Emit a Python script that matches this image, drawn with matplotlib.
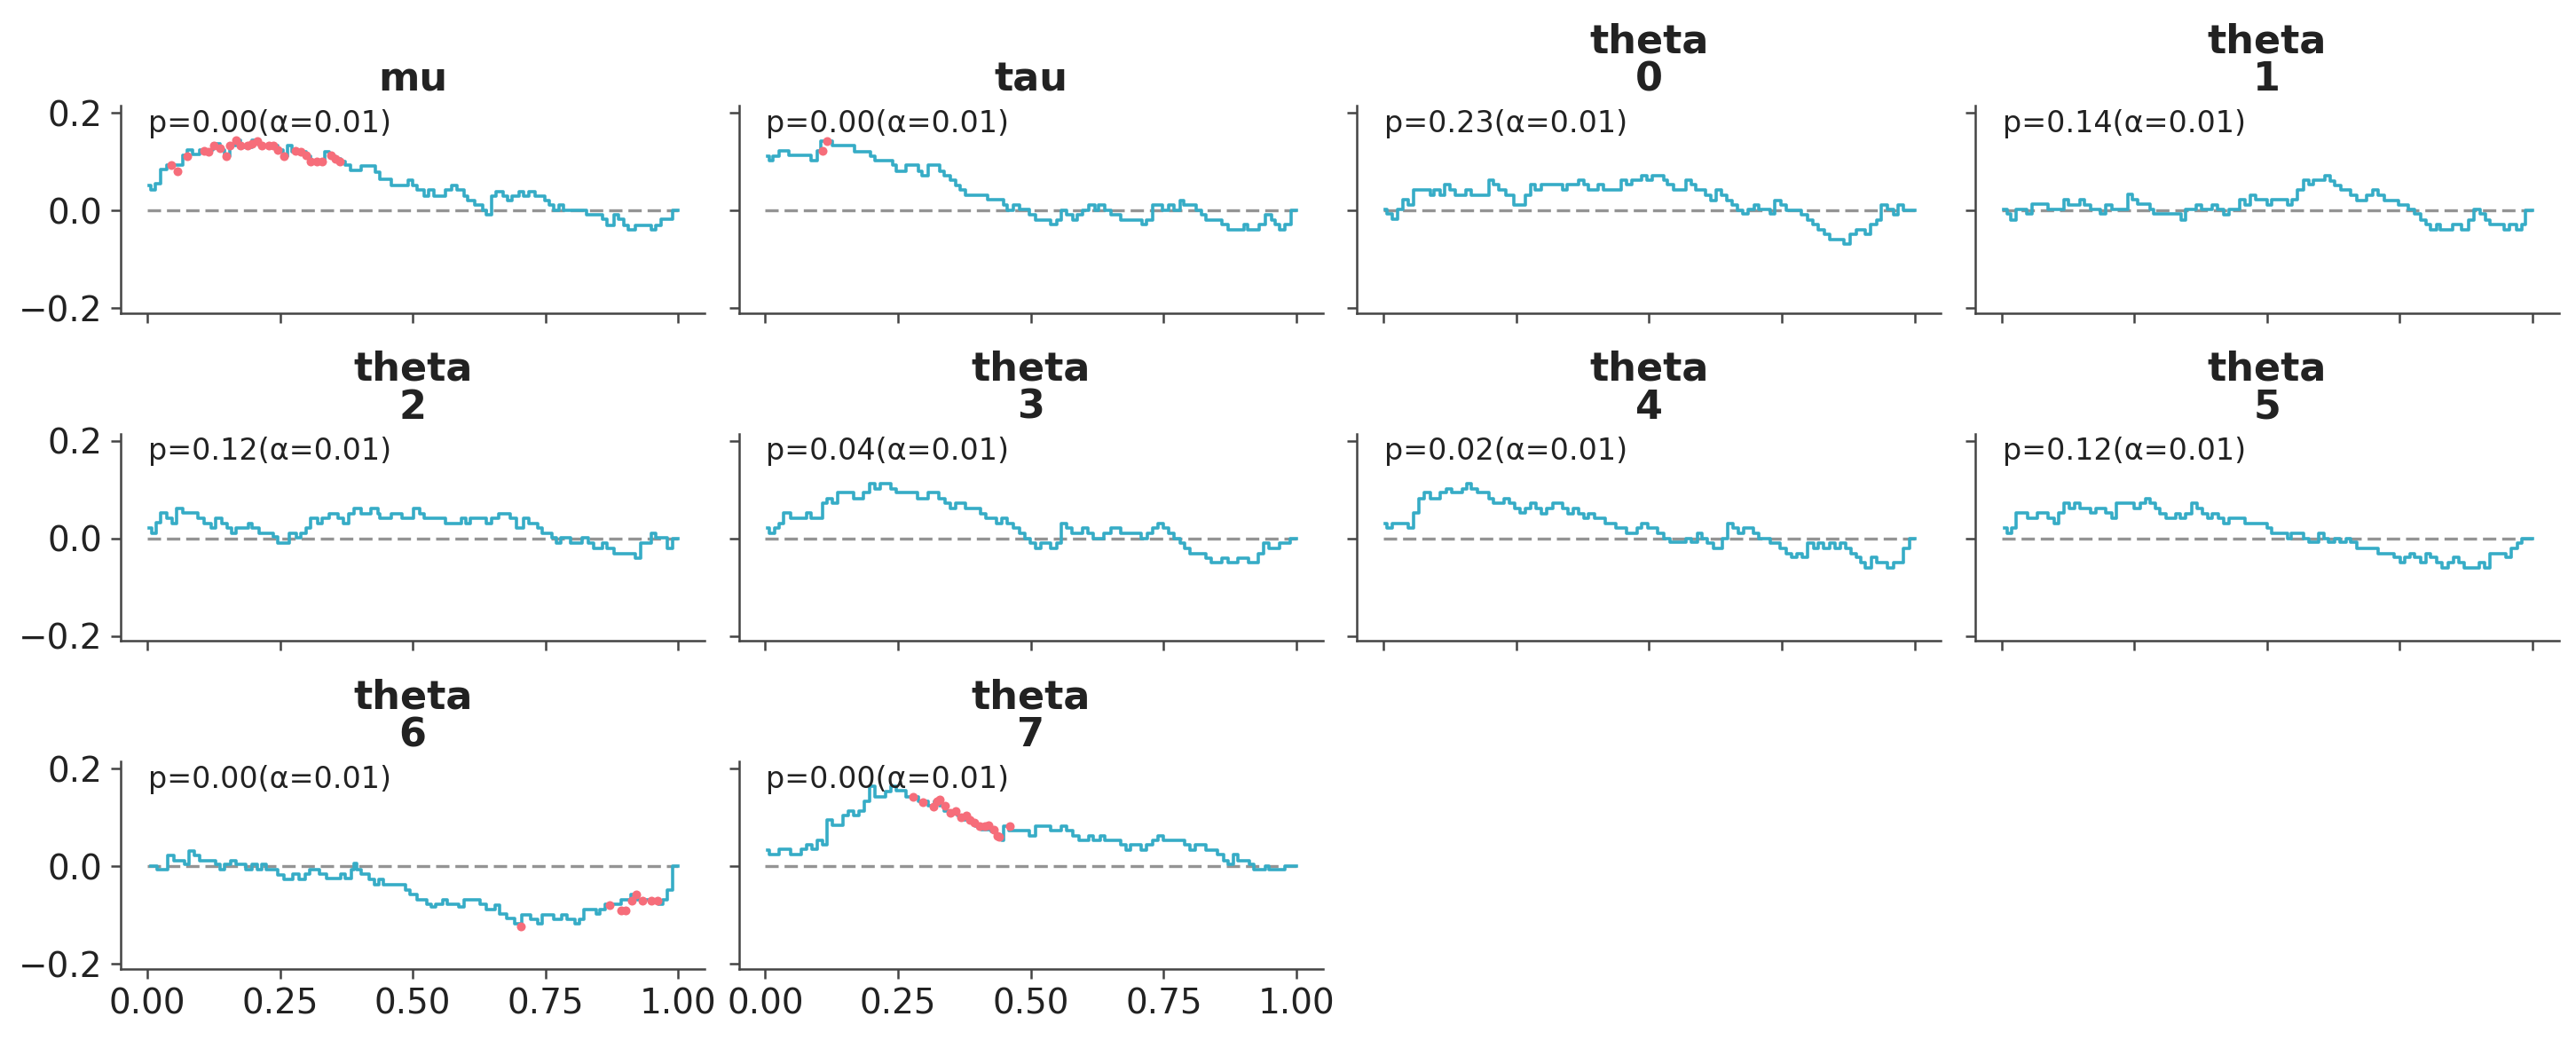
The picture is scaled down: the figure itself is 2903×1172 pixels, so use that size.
import matplotlib
matplotlib.use("Agg")
import matplotlib.pyplot as plt
import numpy as np

# ECDF difference (step) data per variable
titles = ["mu", "tau", "theta\n0", "theta\n1", "theta\n2", "theta\n3",
          "theta\n4", "theta\n5", "theta\n6", "theta\n7"]
p_values = [0.00, 0.00, 0.23, 0.14, 0.12, 0.04, 0.02, 0.12, 0.00, 0.00]
alpha = 0.01

mu_x = [0.004, 0.006, 0.015, 0.026, 0.037, 0.067, 0.076, 0.085, 0.098, 0.124, 0.137, 0.146, 0.155,
        0.168, 0.176, 0.198, 0.211, 0.246, 0.255, 0.264, 0.272, 0.299, 0.307, 0.334, 0.342, 0.355,
        0.364, 0.373, 0.382, 0.403, 0.430, 0.438, 0.460, 0.491, 0.500, 0.508, 0.521, 0.530, 0.539,
        0.561, 0.574, 0.583, 0.596, 0.604, 0.617, 0.631, 0.638, 0.648, 0.657, 0.670, 0.679, 0.687,
        0.700, 0.709, 0.718, 0.731, 0.748, 0.757, 0.766, 0.775, 0.783, 0.827, 0.858, 0.866, 0.879,
        0.888, 0.897, 0.906, 0.919, 0.949, 0.958, 0.967, 0.989, 1.0]
mu_y = [0.052, 0.042, 0.055, 0.084, 0.094, 0.114, 0.124, 0.115, 0.124, 0.136, 0.124, 0.112, 0.133,
        0.145, 0.130, 0.145, 0.133, 0.124, 0.112, 0.133, 0.121, 0.112, 0.100, 0.121, 0.112, 0.106,
        0.100, 0.094, 0.082, 0.091, 0.079, 0.064, 0.052, 0.062, 0.052, 0.042, 0.030, 0.042, 0.030,
        0.042, 0.052, 0.042, 0.030, 0.021, 0.012, 0.0, -0.009, 0.030, 0.039, 0.030, 0.021, 0.030,
        0.039, 0.030, 0.039, 0.030, 0.021, 0.012, 0.0, 0.012, 0.0, -0.009, -0.018, -0.030, -0.009,
        -0.018, -0.030, -0.039, -0.030, -0.039, -0.030, -0.018, 0.0, 0.0]

tau_x = [0.004, 0.007, 0.015, 0.026, 0.045, 0.086, 0.097, 0.105, 0.127, 0.168, 0.198, 0.206, 0.239,
         0.247, 0.265, 0.288, 0.295, 0.306, 0.329, 0.336, 0.348, 0.359, 0.366, 0.377, 0.419, 0.448,
         0.456, 0.467, 0.478, 0.497, 0.508, 0.538, 0.549, 0.557, 0.568, 0.579, 0.587, 0.598, 0.609,
         0.620, 0.628, 0.639, 0.650, 0.669, 0.710, 0.717, 0.729, 0.747, 0.759, 0.770, 0.781, 0.788,
         0.811, 0.822, 0.830, 0.859, 0.871, 0.901, 0.908, 0.930, 0.942, 0.953, 0.960, 0.969, 0.979,
         0.990, 1.0]
tau_y = [0.111, 0.102, 0.111, 0.123, 0.113, 0.102, 0.123, 0.142, 0.133, 0.120, 0.111, 0.102, 0.093,
         0.081, 0.093, 0.081, 0.072, 0.093, 0.081, 0.072, 0.063, 0.051, 0.042, 0.031, 0.023, 0.012,
         0.0, 0.012, 0.003, -0.009, -0.019, -0.029, -0.019, 0.0, -0.009, -0.019, -0.009, 0.0, 0.012,
         0.0, 0.012, 0.0, -0.009, -0.019, -0.029, -0.019, 0.012, 0.0, 0.012, 0.0, 0.021, 0.012,
         0.0, -0.009, -0.019, -0.029, -0.039, -0.029, -0.039, -0.029, -0.009, -0.019, -0.029, -0.039,
         -0.029, 0.0, 0.0]

theta0_x = [0.004, 0.007, 0.017, 0.027, 0.037, 0.047, 0.057, 0.088, 0.095, 0.107, 0.116, 0.125,
            0.136, 0.155, 0.166, 0.198, 0.207, 0.218, 0.230, 0.245, 0.267, 0.278, 0.286, 0.297,
            0.338, 0.345, 0.368, 0.377, 0.386, 0.405, 0.415, 0.447, 0.457, 0.468, 0.487, 0.497,
            0.506, 0.528, 0.535, 0.547, 0.569, 0.579, 0.588, 0.606, 0.617, 0.627, 0.636, 0.647,
            0.656, 0.666, 0.676, 0.687, 0.699, 0.707, 0.728, 0.737, 0.748, 0.758, 0.787, 0.798,
            0.808, 0.819, 0.830, 0.840, 0.867, 0.878, 0.890, 0.908, 0.918, 0.929, 0.938, 0.949,
            0.960, 0.969, 0.979, 1.0]
theta0_y = [0.003, -0.007, -0.018, 0.003, 0.023, 0.012, 0.042, 0.031, 0.042, 0.031, 0.053, 0.042,
            0.031, 0.042, 0.031, 0.063, 0.053, 0.042, 0.031, 0.012, 0.031, 0.053, 0.042, 0.053,
            0.042, 0.053, 0.063, 0.053, 0.042, 0.053, 0.042, 0.063, 0.053, 0.063, 0.072, 0.063,
            0.072, 0.063, 0.053, 0.042, 0.063, 0.053, 0.042, 0.031, 0.021, 0.042, 0.031, 0.021,
            0.012, 0.0, -0.007, 0.003, 0.012, 0.003, -0.007, 0.021, 0.012, 0.0, -0.009, -0.019,
            -0.029, -0.039, -0.048, -0.059, -0.069, -0.048, -0.039, -0.048, -0.029, -0.019, 0.012, 0.003,
            -0.009, 0.012, 0.0, 0.0]

theta1_x = [0.004, 0.010, 0.017, 0.027, 0.047, 0.058, 0.088, 0.117, 0.126, 0.147, 0.156, 0.167,
            0.186, 0.197, 0.208, 0.238, 0.247, 0.257, 0.279, 0.287, 0.339, 0.347, 0.367, 0.377,
            0.396, 0.407, 0.418, 0.429, 0.448, 0.459, 0.469, 0.478, 0.500, 0.508, 0.538, 0.547,
            0.557, 0.568, 0.579, 0.587, 0.609, 0.619, 0.628, 0.639, 0.658, 0.669, 0.688, 0.699,
            0.709, 0.721, 0.748, 0.766, 0.778, 0.789, 0.800, 0.808, 0.819, 0.826, 0.849, 0.867,
            0.879, 0.890, 0.901, 0.912, 0.920, 0.946, 0.957, 0.969, 0.980, 0.987, 1.0]
theta1_y = [0.003, -0.007, -0.019, 0.003, -0.007, 0.013, 0.003, 0.023, 0.012, 0.023, 0.012, 0.003,
            -0.007, 0.012, 0.003, 0.033, 0.023, 0.013, 0.003, -0.007, -0.019, 0.003, 0.012, 0.003,
            0.012, 0.003, -0.009, 0.003, 0.023, 0.012, 0.031, 0.023, 0.012, 0.023, 0.012, 0.023,
            0.042, 0.063, 0.053, 0.063, 0.071, 0.060, 0.051, 0.042, 0.031, 0.021, 0.031, 0.042,
            0.031, 0.021, 0.012, 0.003, -0.007, -0.019, -0.029, -0.039, -0.029, -0.039, -0.029, -0.039,
            -0.019, 0.003, -0.007, -0.019, -0.029, -0.039, -0.029, -0.039, -0.029, 0.0, 0.0]

theta2_x = [0.004, 0.009, 0.017, 0.026, 0.037, 0.047, 0.056, 0.067, 0.096, 0.107, 0.120, 0.128,
            0.140, 0.150, 0.159, 0.168, 0.190, 0.198, 0.210, 0.238, 0.246, 0.268, 0.281, 0.290,
            0.299, 0.307, 0.321, 0.329, 0.342, 0.360, 0.369, 0.379, 0.390, 0.402, 0.421, 0.434,
            0.438, 0.460, 0.480, 0.501, 0.513, 0.521, 0.561, 0.591, 0.600, 0.609, 0.639, 0.648,
            0.661, 0.683, 0.696, 0.709, 0.718, 0.735, 0.744, 0.762, 0.770, 0.779, 0.797, 0.818,
            0.831, 0.840, 0.858, 0.866, 0.879, 0.919, 0.929, 0.949, 0.958, 0.980, 0.989, 1.0]
theta2_y = [0.022, 0.011, 0.033, 0.053, 0.042, 0.031, 0.062, 0.053, 0.042, 0.031, 0.021, 0.042,
            0.031, 0.021, 0.011, 0.022, 0.031, 0.021, 0.011, 0.004, -0.009, 0.010, 0.001, 0.011,
            0.021, 0.042, 0.031, 0.042, 0.051, 0.042, 0.031, 0.051, 0.062, 0.051, 0.062, 0.051,
            0.042, 0.051, 0.042, 0.062, 0.051, 0.042, 0.031, 0.042, 0.031, 0.042, 0.031, 0.042,
            0.051, 0.042, 0.021, 0.042, 0.031, 0.021, 0.010, 0.001, -0.009, 0.001, -0.009, 0.001,
            -0.009, -0.020, -0.009, -0.020, -0.031, -0.041, -0.009, 0.010, 0.001, -0.021, 0.0, 0.0]

theta3_x = [0.005, 0.007, 0.017, 0.026, 0.035, 0.047, 0.077, 0.086, 0.107, 0.117, 0.127, 0.137,
            0.167, 0.185, 0.197, 0.207, 0.217, 0.237, 0.247, 0.286, 0.306, 0.327, 0.339, 0.348,
            0.359, 0.377, 0.406, 0.416, 0.436, 0.446, 0.456, 0.467, 0.478, 0.488, 0.498, 0.508,
            0.518, 0.538, 0.549, 0.558, 0.568, 0.578, 0.598, 0.608, 0.618, 0.638, 0.650, 0.670,
            0.708, 0.720, 0.729, 0.740, 0.750, 0.759, 0.770, 0.781, 0.790, 0.800, 0.830, 0.839,
            0.859, 0.871, 0.889, 0.910, 0.929, 0.939, 0.949, 0.969, 0.989, 1.0]
theta3_y = [0.021, 0.011, 0.021, 0.031, 0.053, 0.042, 0.053, 0.042, 0.072, 0.082, 0.072, 0.094,
            0.082, 0.094, 0.113, 0.102, 0.113, 0.102, 0.094, 0.082, 0.094, 0.082, 0.072, 0.062,
            0.072, 0.062, 0.051, 0.042, 0.031, 0.042, 0.031, 0.021, 0.010, 0.0, -0.009, -0.020,
            -0.009, -0.020, -0.009, 0.031, 0.021, 0.011, 0.021, 0.011, 0.0, 0.011, 0.021, 0.011,
            0.0, 0.011, 0.021, 0.031, 0.021, 0.011, 0.0, -0.009, -0.020, -0.031, -0.041, -0.050,
            -0.040, -0.050, -0.040, -0.050, -0.031, -0.009, -0.020, -0.009, 0.0, 0.0]

theta4_x = [0.004, 0.007, 0.017, 0.047, 0.057, 0.066, 0.077, 0.088, 0.107, 0.118, 0.129, 0.148,
            0.157, 0.166, 0.177, 0.198, 0.207, 0.228, 0.237, 0.248, 0.258, 0.267, 0.278, 0.288,
            0.298, 0.308, 0.319, 0.338, 0.347, 0.358, 0.368, 0.377, 0.386, 0.397, 0.418, 0.437,
            0.457, 0.477, 0.487, 0.498, 0.517, 0.528, 0.539, 0.569, 0.579, 0.591, 0.599, 0.610,
            0.621, 0.638, 0.649, 0.658, 0.668, 0.679, 0.696, 0.707, 0.728, 0.746, 0.758, 0.768,
            0.778, 0.789, 0.798, 0.810, 0.819, 0.828, 0.841, 0.850, 0.860, 0.871, 0.880, 0.890,
            0.899, 0.908, 0.919, 0.929, 0.949, 0.960, 0.979, 0.990, 1.0]
theta4_y = [0.031, 0.021, 0.031, 0.021, 0.053, 0.082, 0.094, 0.082, 0.094, 0.101, 0.094, 0.101,
            0.113, 0.102, 0.094, 0.082, 0.072, 0.082, 0.072, 0.062, 0.053, 0.062, 0.072, 0.062,
            0.051, 0.062, 0.072, 0.062, 0.051, 0.062, 0.051, 0.042, 0.051, 0.042, 0.031, 0.021,
            0.011, 0.021, 0.031, 0.021, 0.011, 0.0, -0.008, 0.0, -0.008, 0.011, 0.0, -0.009,
            -0.020, 0.0, 0.031, 0.021, 0.011, 0.021, 0.011, 0.0, -0.009, -0.020, -0.031, -0.039,
            -0.031, -0.039, -0.009, -0.020, -0.009, -0.020, -0.009, -0.020, -0.009, -0.020, -0.031, -0.039,
            -0.050, -0.061, -0.039, -0.050, -0.061, -0.050, -0.020, 0.0, 0.0]

theta5_x = [0.006, 0.010, 0.019, 0.028, 0.049, 0.067, 0.088, 0.100, 0.107, 0.117, 0.127, 0.137,
            0.147, 0.167, 0.177, 0.197, 0.208, 0.217, 0.249, 0.261, 0.272, 0.279, 0.289, 0.298,
            0.309, 0.328, 0.337, 0.347, 0.358, 0.369, 0.379, 0.388, 0.397, 0.409, 0.419, 0.429,
            0.459, 0.500, 0.509, 0.538, 0.545, 0.568, 0.579, 0.598, 0.607, 0.616, 0.628, 0.637,
            0.649, 0.658, 0.669, 0.709, 0.739, 0.751, 0.759, 0.769, 0.778, 0.789, 0.799, 0.808,
            0.819, 0.830, 0.841, 0.851, 0.861, 0.871, 0.899, 0.909, 0.920, 0.950, 0.959, 0.971,
            0.980, 1.0]
theta5_y = [0.022, 0.011, 0.022, 0.053, 0.042, 0.053, 0.042, 0.031, 0.053, 0.072, 0.062, 0.072,
            0.062, 0.053, 0.062, 0.053, 0.042, 0.072, 0.062, 0.072, 0.082, 0.072, 0.062, 0.051,
            0.042, 0.051, 0.042, 0.051, 0.072, 0.062, 0.051, 0.042, 0.051, 0.042, 0.031, 0.042,
            0.031, 0.021, 0.011, 0.0, 0.011, 0.0, -0.008, 0.010, 0.0, -0.008, 0.0, -0.008,
            0.0, -0.008, -0.020, -0.031, -0.039, -0.050, -0.039, -0.031, -0.039, -0.050, -0.031, -0.039,
            -0.050, -0.061, -0.050, -0.039, -0.050, -0.061, -0.050, -0.061, -0.031, -0.039, -0.020, -0.009,
            0.0, 0.0]

theta6_x = [0.006, 0.019, 0.038, 0.050, 0.070, 0.079, 0.089, 0.098, 0.128, 0.137, 0.146, 0.157,
            0.168, 0.185, 0.198, 0.207, 0.216, 0.224, 0.245, 0.257, 0.274, 0.286, 0.297, 0.306,
            0.325, 0.338, 0.364, 0.373, 0.384, 0.390, 0.395, 0.403, 0.417, 0.428, 0.437, 0.445,
            0.486, 0.495, 0.508, 0.526, 0.534, 0.543, 0.556, 0.565, 0.587, 0.596, 0.626, 0.639,
            0.655, 0.664, 0.676, 0.692, 0.705, 0.722, 0.735, 0.744, 0.766, 0.781, 0.790, 0.805,
            0.814, 0.823, 0.845, 0.853, 0.862, 0.893, 0.910, 0.923, 0.962, 0.971, 0.980, 0.990, 1.0]
theta6_y = [0.0, -0.007, 0.023, 0.012, 0.004, 0.032, 0.023, 0.012, 0.004, -0.007, 0.004, 0.012,
            0.004, -0.007, 0.004, -0.007, 0.004, -0.007, -0.018, -0.026, -0.016, -0.026, -0.016, -0.006,
            -0.016, -0.025, -0.016, -0.025, -0.007, 0.006, -0.007, -0.016, -0.026, -0.037, -0.026, -0.037,
            -0.048, -0.058, -0.068, -0.078, -0.082, -0.078, -0.068, -0.078, -0.082, -0.068, -0.078, -0.088,
            -0.080, -0.097, -0.106, -0.118, -0.100, -0.109, -0.118, -0.100, -0.109, -0.100, -0.109, -0.118,
            -0.109, -0.088, -0.097, -0.088, -0.078, -0.068, -0.058, -0.068, -0.078, -0.068, -0.048, 0.0, 0.0]

theta7_x = [0.005, 0.007, 0.026, 0.047, 0.067, 0.077, 0.087, 0.097, 0.108, 0.117, 0.127, 0.146,
            0.157, 0.167, 0.177, 0.187, 0.197, 0.206, 0.226, 0.237, 0.247, 0.265, 0.288, 0.306,
            0.318, 0.329, 0.336, 0.351, 0.362, 0.374, 0.385, 0.396, 0.407, 0.426, 0.433, 0.445,
            0.448, 0.458, 0.497, 0.508, 0.538, 0.558, 0.568, 0.579, 0.590, 0.609, 0.618, 0.630,
            0.639, 0.670, 0.680, 0.688, 0.708, 0.717, 0.729, 0.740, 0.750, 0.790, 0.800, 0.809,
            0.830, 0.852, 0.863, 0.872, 0.882, 0.889, 0.912, 0.919, 0.942, 0.949, 0.979, 1.0]
theta7_y = [0.034, 0.024, 0.035, 0.024, 0.035, 0.044, 0.035, 0.054, 0.044, 0.095, 0.084, 0.104,
            0.114, 0.104, 0.114, 0.134, 0.164, 0.143, 0.154, 0.164, 0.155, 0.143, 0.134, 0.125,
            0.134, 0.125, 0.114, 0.110, 0.104, 0.095, 0.089, 0.083, 0.076, 0.071, 0.062, 0.053,
            0.083, 0.074, 0.062, 0.083, 0.074, 0.083, 0.074, 0.062, 0.053, 0.062, 0.053, 0.062,
            0.053, 0.044, 0.034, 0.044, 0.034, 0.044, 0.053, 0.062, 0.053, 0.044, 0.034, 0.044,
            0.034, 0.024, 0.012, 0.004, 0.024, 0.012, 0.004, -0.007, 0.0, -0.007, 0.0, 0.0]

# points flagged outside the envelope
mu_red_x = [0.045, 0.057, 0.076, 0.107, 0.115, 0.126, 0.137, 0.148, 0.156, 0.168, 0.176, 0.189,
            0.198, 0.207, 0.216, 0.229, 0.238, 0.246, 0.257, 0.279, 0.290, 0.299, 0.307, 0.320,
            0.329, 0.346, 0.355, 0.362]
mu_red_y = [0.094, 0.080, 0.112, 0.122, 0.121, 0.133, 0.127, 0.112, 0.133, 0.145, 0.133, 0.133,
            0.136, 0.142, 0.133, 0.133, 0.133, 0.124, 0.112, 0.122, 0.121, 0.114, 0.100, 0.100,
            0.100, 0.114, 0.106, 0.100]
tau_red_x = [0.107, 0.116]
tau_red_y = [0.122, 0.142]
theta6_red_x = [0.703, 0.871, 0.892, 0.901, 0.912, 0.921, 0.932, 0.949, 0.961]
theta6_red_y = [-0.122, -0.080, -0.090, -0.090, -0.070, -0.058, -0.070, -0.070, -0.070]
theta7_red_x = [0.278, 0.297, 0.316, 0.324, 0.329, 0.339, 0.348, 0.359, 0.368, 0.379, 0.386,
                0.394, 0.404, 0.413, 0.421, 0.430, 0.437, 0.441, 0.460]
theta7_red_y = [0.143, 0.132, 0.122, 0.134, 0.137, 0.124, 0.110, 0.114, 0.101, 0.104, 0.095,
                0.089, 0.083, 0.082, 0.084, 0.076, 0.062, 0.060, 0.083]

series = [(mu_x, mu_y), (tau_x, tau_y), (theta0_x, theta0_y), (theta1_x, theta1_y),
          (theta2_x, theta2_y), (theta3_x, theta3_y), (theta4_x, theta4_y),
          (theta5_x, theta5_y), (theta6_x, theta6_y), (theta7_x, theta7_y)]
red = {0: (mu_red_x, mu_red_y), 1: (tau_red_x, tau_red_y),
       8: (theta6_red_x, theta6_red_y), 9: (theta7_red_x, theta7_red_y)}

line_color = "#36acc6"
red_color = "#f66d7a"
text_color = "#222222"

plt.rcParams["font.family"] = "DejaVu Sans"
plt.rcParams["text.color"] = text_color
plt.rcParams["xtick.color"] = text_color
plt.rcParams["ytick.color"] = text_color

fig, axes = plt.subplots(3, 4, figsize=(14.515, 5.86), dpi=200, sharex=True, sharey=True)
fig.subplots_adjust(left=136 / 2903, right=2884 / 2903, top=1 - 119 / 1172,
                    bottom=1 - 1092 / 1172, wspace=0.058, hspace=0.58)

for i, ax in enumerate(axes.flat):
    if i >= len(series):
        ax.remove()
        continue
    x, y = series[i]
    ax.plot([0, 1], [0, 0], ls="--", dashes=(4.5, 2.0), color="0.58", lw=1.2, zorder=1)
    ax.step(x, y, where="post", color=line_color, lw=1.3, zorder=2)
    if i in red:
        rx, ry = red[i]
        ax.plot(rx, ry, "o", color=red_color, ms=3.6, mec="none", zorder=3)
    ax.set_title(titles[i], fontsize=16, fontweight="bold", color=text_color, linespacing=1.0)
    ax.text(0.047, 0.985, f"p={p_values[i]:.2f}(\u03b1={alpha})", transform=ax.transAxes,
            ha="left", va="top", fontsize=12)
    for s in ["top", "right"]:
        ax.spines[s].set_visible(False)
    for s in ["left", "bottom"]:
        ax.spines[s].set_color("#444444")
        ax.spines[s].set_linewidth(0.9)
    ax.tick_params(labelsize=14, length=4, width=0.9, color="#444444")

ax0 = axes.flat[0]
ax0.set_xlim(-0.05, 1.05)
ax0.set_ylim(-0.21, 0.215)
ax0.set_xticks([0, 0.25, 0.5, 0.75, 1.0])
ax0.set_yticks([-0.2, 0.0, 0.2])

# panels above the removed slots keep ticks but no labels, as in the reference
for ax in axes[1, 2:]:
    ax.tick_params(labelbottom=False)

fig.savefig("out.png", dpi=200)
